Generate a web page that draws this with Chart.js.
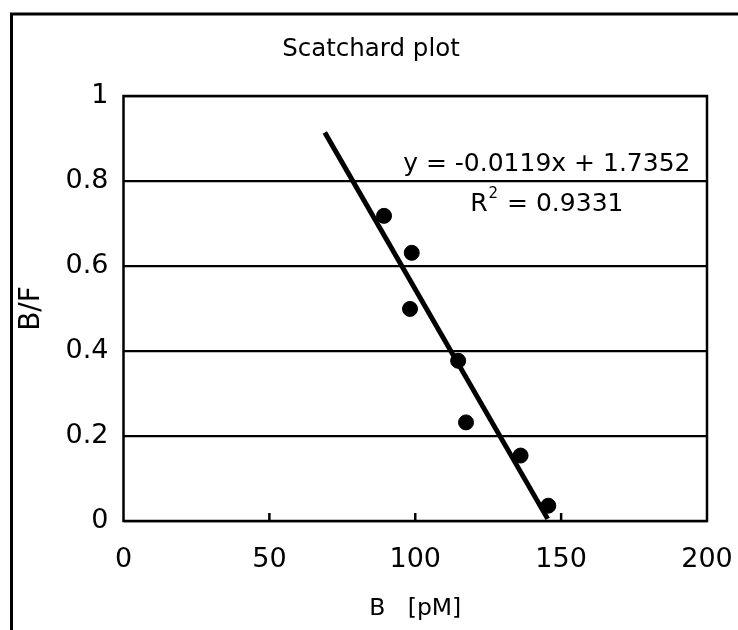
<!DOCTYPE html>
<html>
<head>
<meta charset="utf-8">
<script src="https://cdn.jsdelivr.net/npm/chart.js"></script>
<style>
  html, body { margin: 0; padding: 0; background: #fff; }
  #wrap { width: 738px; height: 630px; }
</style>
</head>
<body>
<div id="wrap"><canvas id="scatchard" width="738" height="630"></canvas></div>
<script>
// measured points (B in pM, B/F)
const bValues = [89.3, 98.8, 98.2, 114.7, 117.4, 136.1, 145.6];
const bfValues = [0.718, 0.631, 0.499, 0.377, 0.232, 0.154, 0.036];

// trend line ends as drawn on the picture
const trendX = [69, 145.4];
const trendY = [0.914, 0.005];

const xTicks = [0, 50, 100, 150, 200];
const yTicks = [0, 0.2, 0.4, 0.6, 0.8, 1];

const chartTitle = 'Scatchard plot';
const equationText = 'y = -0.0119x + 1.7352';
const r2Value = '0.9331';

const FONT = 'DejaVu Sans';

// frame, inward tick marks, outer border, title and the equation label
const decorations = {
  id: 'decorations',
  beforeDatasetsDraw(chart) {
    const { ctx, chartArea: a, scales } = chart;
    ctx.save();
    ctx.strokeStyle = '#000';
    ctx.lineWidth = 2.5;
    ctx.strokeRect(a.left, a.top, a.right - a.left, a.bottom - a.top);
    xTicks.slice(1, -1).forEach(v => {
      const px = scales.x.getPixelForValue(v);
      ctx.beginPath();
      ctx.moveTo(px, a.bottom);
      ctx.lineTo(px, a.bottom - 8);
      ctx.stroke();
    });
    ctx.restore();
  },
  afterDraw(chart) {
    const { ctx, scales, width } = chart;
    ctx.save();
    // outer border (only top and left show in the picture)
    ctx.strokeStyle = '#000';
    ctx.lineWidth = 3;
    ctx.beginPath();
    ctx.moveTo(11.5, 640);
    ctx.lineTo(11.5, 14);
    ctx.lineTo(745, 14);
    ctx.stroke();

    ctx.fillStyle = '#000';
    ctx.textBaseline = 'middle';
    ctx.textAlign = 'center';
    ctx.font = '24.5px "' + FONT + '"';
    ctx.fillText(chartTitle, width / 2 + 2, 50);

    // equation + R^2
    const cx = scales.x.getPixelForValue(145.1);
    ctx.font = '25px "' + FONT + '"';
    ctx.fillText(equationText, cx, scales.y.getPixelForValue(0.840));

    const ry = scales.y.getPixelForValue(0.745);
    const left = 'R';
    const right = ' = ' + r2Value;
    const wl = ctx.measureText(left).width;
    const wr = ctx.measureText(right).width;
    ctx.font = '15px "' + FONT + '"';
    const ws = ctx.measureText('2').width + 2;
    const x0 = cx - (wl + ws + wr) / 2;
    ctx.textAlign = 'left';
    ctx.font = '25px "' + FONT + '"';
    ctx.fillText(left, x0, ry);
    ctx.font = '15px "' + FONT + '"';
    ctx.fillText('2', x0 + wl + 1, ry - 10);
    ctx.font = '25px "' + FONT + '"';
    ctx.fillText(right, x0 + wl + ws, ry);
    ctx.restore();
  }
};

const ctx = document.getElementById('scatchard').getContext('2d');
new Chart(ctx, {
  type: 'scatter',
  data: {
    datasets: [
      {
        label: 'trend',
        type: 'line',
        data: trendX.map((x, i) => ({ x: x, y: trendY[i] })),
        borderColor: '#000',
        borderWidth: 5,
        pointRadius: 0,
        fill: false,
        order: 2
      },
      {
        label: 'B/F',
        data: bValues.map((x, i) => ({ x: x, y: bfValues[i] })),
        backgroundColor: '#000',
        borderColor: '#000',
        pointRadius: 7.5,
        pointHoverRadius: 7.5,
        order: 1
      }
    ]
  },
  options: {
    responsive: false,
    animation: false,
    devicePixelRatio: 1,
    layout: { padding: { top: 96, left: 0, right: 31, bottom: 0 } },
    plugins: {
      legend: { display: false },
      tooltip: { enabled: false },
      title: { display: false }
    },
    scales: {
      x: {
        type: 'linear',
        min: 0,
        max: 200,
        afterBuildTicks: s => { s.ticks = xTicks.map(v => ({ value: v })); },
        afterFit: s => { s.height = 109; s.paddingLeft = 0; s.paddingRight = 0; },
        ticks: {
          color: '#000',
          font: { family: FONT, size: 27 },
          padding: 23,
          maxRotation: 0
        },
        grid: { display: false, drawTicks: false },
        border: { display: false },
        title: {
          display: true,
          text: 'B   [pM]',
          color: '#000',
          font: { family: FONT, size: 23.5 },
          padding: { top: 0, bottom: 7 }
        }
      },
      y: {
        type: 'linear',
        min: 0,
        max: 1,
        afterBuildTicks: s => { s.ticks = yTicks.map(v => ({ value: v })); },
        afterFit: s => { s.width = 123.5; },
        ticks: {
          color: '#000',
          font: { family: FONT, size: 27 },
          padding: 15,
          callback: v => String(+v.toFixed(1))
        },
        grid: { color: '#000', lineWidth: 2.2, drawTicks: false },
        border: { display: false },
        title: {
          display: true,
          text: 'B/F',
          color: '#000',
          font: { family: FONT, size: 28 },
          padding: { top: 15, bottom: 0 }
        }
      }
    }
  },
  plugins: [decorations]
});
</script>
</body>
</html>
